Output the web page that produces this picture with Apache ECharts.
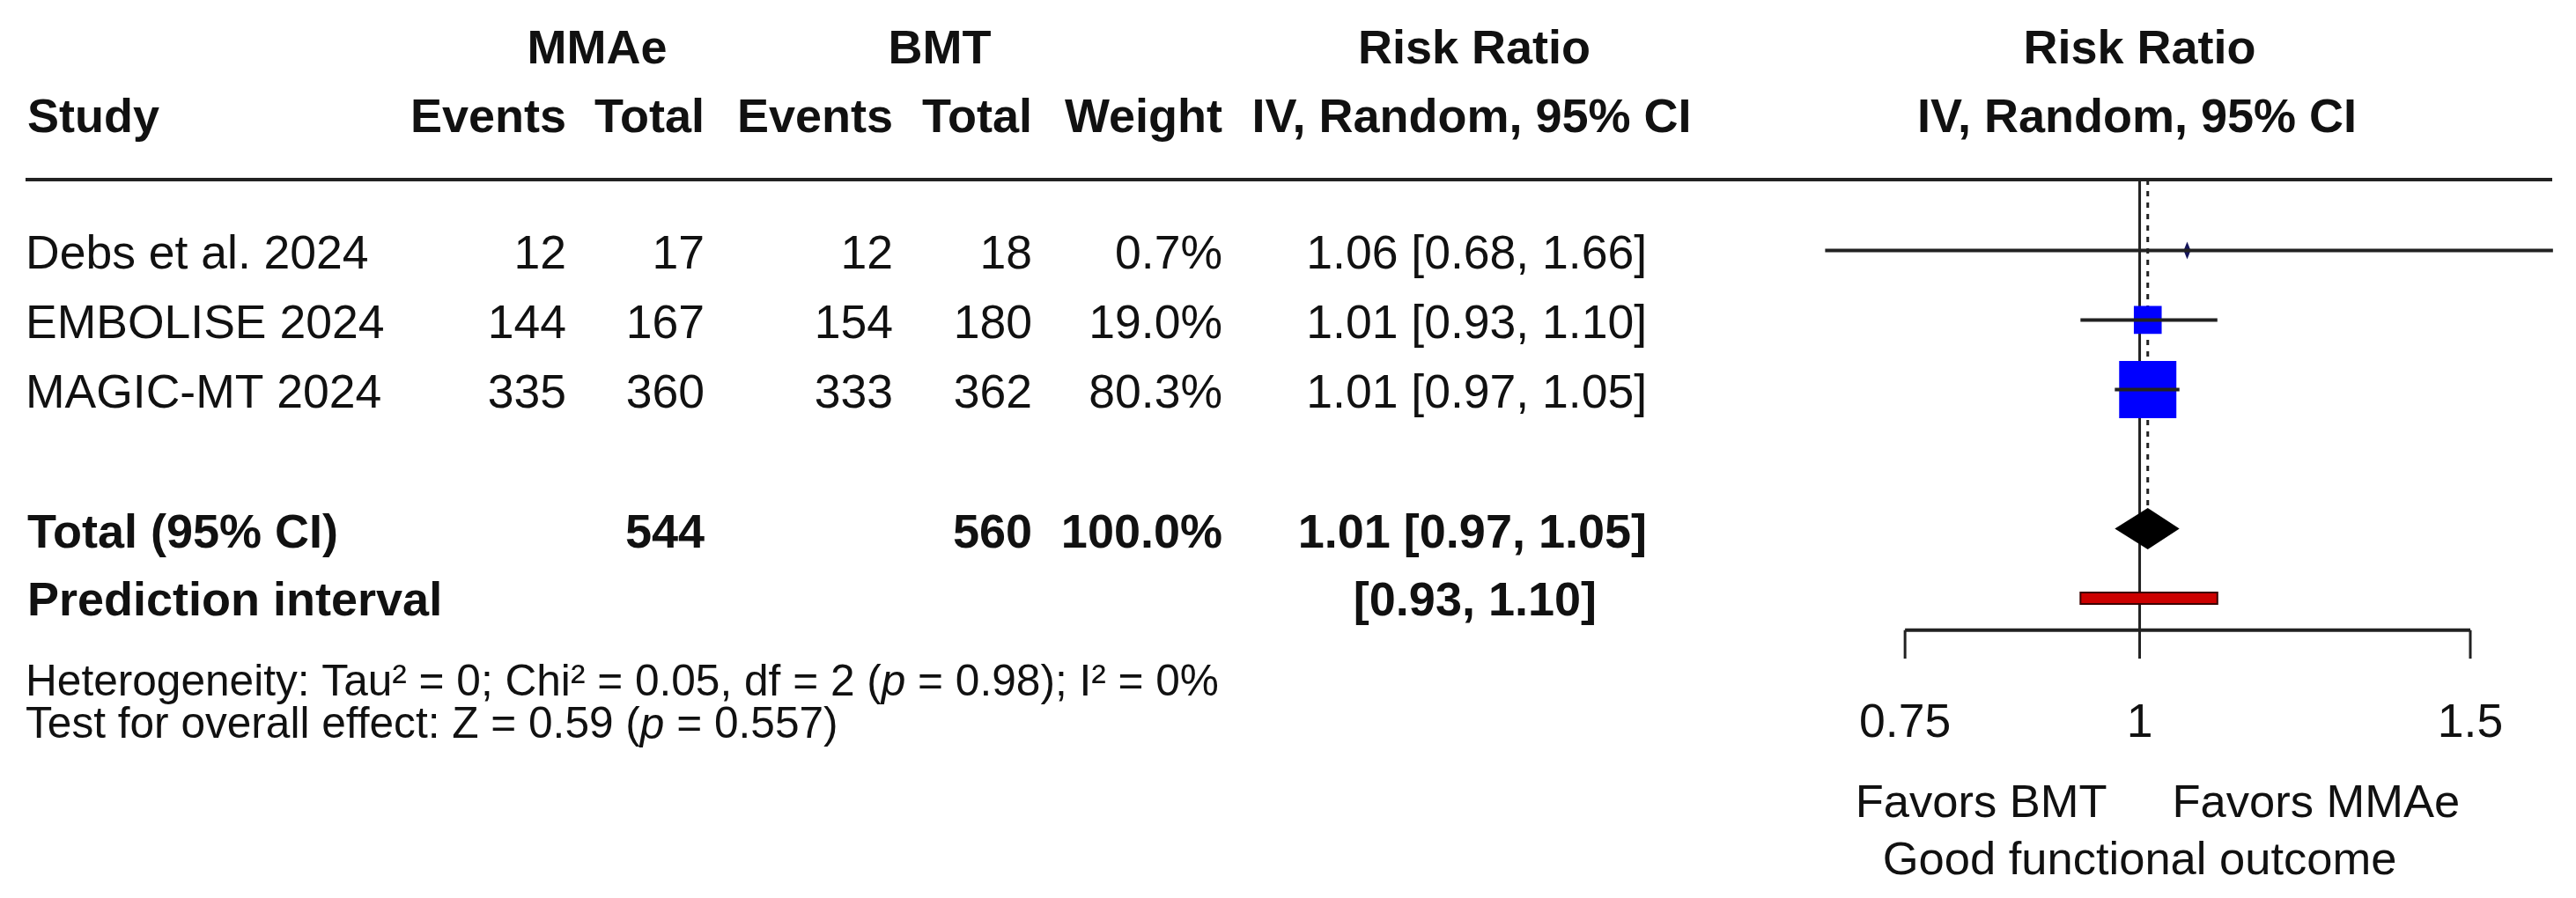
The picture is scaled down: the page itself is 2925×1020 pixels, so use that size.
<!DOCTYPE html>
<html><head><meta charset="utf-8">
<script src="https://cdn.jsdelivr.net/npm/echarts@6/dist/echarts.min.js"></script>
<style>html,body{margin:0;padding:0;background:#fff}#main{width:2925px;height:1020px}</style>
</head><body><div id="main"></div>
<script>
// ---------------- data ----------------
const studies = ['Debs et al. 2024', 'EMBOLISE 2024', 'MAGIC-MT 2024'];
const mmaeEvents = [12, 144, 335];
const mmaeTotal = [17, 167, 360];
const bmtEvents = [12, 154, 333];
const bmtTotal = [18, 180, 362];
const weights = [0.7, 19.0, 80.3];
const riskRatio = [1.06, 1.01, 1.01];
const ciLower = [0.68, 0.93, 0.97];
const ciUpper = [1.66, 1.10, 1.05];
const totalLabel = 'Total (95% CI)';
const totalMMAe = [544];
const totalBMT = [560];
const totalWeight = [100.0];
const pooled = [1.01, 0.97, 1.05];          // RR, lower, upper
const predictionLabel = 'Prediction interval';
const predictionInterval = [0.93, 1.10];
const noEffect = [1];
const axisTicks = [0.75, 1, 1.5];
const tickLabels = ['0.75', '1', '1.5'];
const groupHeaders = ['MMAe', 'BMT', 'Risk Ratio', 'Risk Ratio'];
const columnHeaders = ['Study', 'Events', 'Total', 'Events', 'Total', 'Weight', 'IV, Random, 95% CI', 'IV, Random, 95% CI'];
const favorLabels = ['Favors BMT', 'Favors MMAe'];
const outcomeLabel = 'Good functional outcome';
const hetParts = ['Heterogeneity: Tau² = 0; Chi² = 0.05, df = 2 (', 'p', ' = 0.98); I² = 0%'];
const testParts = ['Test for overall effect: Z = 0.59 (', 'p', ' = 0.557)'];

// ---------------- layout ----------------
const FONT = "'Liberation Sans', Arial, Helvetica, sans-serif";
const FS = 53.5, FSB = 54, FSH = 49.6, FSF = 52.5;
const ROW_PX = 79, Y_MIN = -3.6;
const R = { header1: -2.88, header2: -1.89, rule: -1.018, total: 4, pred: 5,
            axis: 5.46, tickEnd: 5.87, tickLabel: 6.81, favors: 7.96, outcome: 8.78,
            het: 6.23, test: 6.84, textOff: 0.08 };
const COL = { study: 31, mmaeE: 643, mmaeT: 800, bmtE: 1014, bmtT: 1172, weight: 1388, rr: 1870,
              mmaeHead: 678, bmtHead: 1067, rrHead: 1674, pred: 1813 };
const LINE = '#222';

const chart = echarts.init(document.getElementById('main'), null, { renderer: 'canvas' });
const fmt2 = v => v.toFixed(2);
const ciText = (r, l, u) => fmt2(r) + ' [' + fmt2(l) + ', ' + fmt2(u) + ']';

function lineEl(p1, p2, w, dash) {
  return { type: 'line', shape: { x1: p1[0], y1: p1[1], x2: p2[0], y2: p2[1] },
           style: { stroke: LINE, lineWidth: w, lineDash: dash || null } };
}

chart.setOption({
  animation: false,
  backgroundColor: '#fff',
  grid: { left: 1956.5, width: 964.4, top: 0, height: 1020 },
  xAxis: { type: 'log', logBase: 10, min: 0.6, max: 1.7, show: false },
  yAxis: { type: 'value', inverse: true, min: Y_MIN, max: Y_MIN + 1020 / ROW_PX, show: false },
  series: [
    { // line of no effect
      type: 'custom', data: noEffect.map(v => [v, R.rule, R.axis]), encode: { x: 0, y: [1, 2] },
      renderItem: (p, api) => lineEl(api.coord([api.value(0), api.value(1)]), api.coord([api.value(0), api.value(2)]), 3)
    },
    { // pooled estimate dashed line
      type: 'custom', data: [[pooled[0], R.rule, R.total]], encode: { x: 0, y: [1, 2] },
      renderItem: (p, api) => lineEl(api.coord([api.value(0), api.value(1)]), api.coord([api.value(0), api.value(2)]), 3, [6, 7])
    },
    { // study squares
      type: 'custom', data: studies.map((s, i) => [riskRatio[i], i, weights[i]]), encode: { x: 0, y: 1 },
      renderItem: (p, api) => {
        const c = api.coord([api.value(0), api.value(1)]);
        const side = 7.25 * Math.sqrt(api.value(2));
        if (side < 10) {
          return { type: 'polygon', shape: { points: [[c[0], c[1] - 10], [c[0] + 4, c[1]], [c[0], c[1] + 10], [c[0] - 4, c[1]]] },
                   style: { fill: '#14145a' } };
        }
        return { type: 'rect', shape: { x: c[0] - side / 2, y: c[1] - side / 2, width: side, height: side },
                 style: { fill: '#0000ff' } };
      }
    },
    { // confidence intervals
      type: 'custom', data: studies.map((s, i) => [ciLower[i], ciUpper[i], i]), encode: { x: [0, 1], y: 2 },
      renderItem: (p, api) => lineEl(api.coord([api.value(0), api.value(2)]), api.coord([api.value(1), api.value(2)]), 4)
    },
    { // pooled diamond
      type: 'custom', data: [[pooled[1], pooled[0], pooled[2], R.total]], encode: { x: [0, 1, 2], y: 3 },
      renderItem: (p, api) => {
        const l = api.coord([api.value(0), api.value(3)]);
        const m = api.coord([api.value(1), api.value(3)]);
        const u = api.coord([api.value(2), api.value(3)]);
        const h = 23.5;
        return { type: 'polygon', shape: { points: [[l[0], l[1]], [m[0], m[1] - h], [u[0], u[1]], [m[0], m[1] + h]] },
                 style: { fill: '#000' } };
      }
    },
    { // prediction interval bar
      type: 'custom', data: [[predictionInterval[0], predictionInterval[1], R.pred]], encode: { x: [0, 1], y: 2 },
      renderItem: (p, api) => {
        const a = api.coord([api.value(0), api.value(2)]);
        const b = api.coord([api.value(1), api.value(2)]);
        return { type: 'rect', shape: { x: a[0], y: a[1] - 6.5, width: b[0] - a[0], height: 13 },
                 style: { fill: '#cc0000', stroke: '#3a0000', lineWidth: 2 } };
      }
    },
    { // axis line
      type: 'custom', data: [[axisTicks[0], axisTicks[axisTicks.length - 1], R.axis]], encode: { x: [0, 1], y: 2 },
      renderItem: (p, api) => lineEl(api.coord([api.value(0), api.value(2)]), api.coord([api.value(1), api.value(2)]), 4)
    },
    { // ticks + labels
      type: 'custom', data: axisTicks.map((v, i) => [v, R.axis, R.tickEnd, R.tickLabel, i]), encode: { x: 0, y: [1, 2, 3] },
      renderItem: (p, api) => {
        const a = api.coord([api.value(0), api.value(1)]);
        const b = api.coord([api.value(0), api.value(2)]);
        const t = api.coord([api.value(0), api.value(3)]);
        return { type: 'group', children: [
          lineEl(a, b, 3),
          { type: 'text', x: t[0], y: t[1],
            style: { text: tickLabels[api.value(4)], fontSize: FS, fontFamily: FONT, fill: '#111',
                     align: 'center', verticalAlign: 'middle', textAlign: 'center', textVerticalAlign: 'middle' } }
        ] };
      }
    }
  ]
});

// ---------------- table text (graphic) ----------------
const yPix = r => chart.convertToPixel({ yAxisIndex: 0 }, r);
const xPix = v => chart.convertToPixel({ xAxisIndex: 0 }, v);
function txt(text, x, row, align, bold, size) {
  const fs = size || (bold ? FSB : FS);
  return { type: 'text', x: x, y: yPix(row), silent: true,
    style: { text: text, fontSize: fs, fontFamily: FONT, fontWeight: bold ? 'bold' : 'normal', fill: '#111',
             align: align, verticalAlign: 'middle', textAlign: align, textVerticalAlign: 'middle' } };
}
const g = [];
const x1 = xPix(noEffect[0]);
g.push(txt(groupHeaders[0], COL.mmaeHead, R.header1, 'center', true));
g.push(txt(groupHeaders[1], COL.bmtHead, R.header1, 'center', true));
g.push(txt(groupHeaders[2], COL.rrHead, R.header1, 'center', true));
g.push(txt(groupHeaders[3], x1, R.header1, 'center', true));
g.push(txt(columnHeaders[0], COL.study, R.header2, 'left', true));
g.push(txt(columnHeaders[1], COL.mmaeE, R.header2, 'right', true));
g.push(txt(columnHeaders[2], COL.mmaeT, R.header2, 'right', true));
g.push(txt(columnHeaders[3], COL.bmtE, R.header2, 'right', true));
g.push(txt(columnHeaders[4], COL.bmtT, R.header2, 'right', true));
g.push(txt(columnHeaders[5], COL.weight, R.header2, 'right', true));
g.push(txt(columnHeaders[6], COL.rrHead - 3, R.header2, 'center', true));
g.push(txt(columnHeaders[7], x1 - 3, R.header2, 'center', true));
g.push({ type: 'line', silent: true, shape: { x1: 29, y1: yPix(R.rule), x2: 2898, y2: yPix(R.rule) },
         style: { stroke: LINE, lineWidth: 4 } });
studies.forEach((s, i) => {
  const r = i + R.textOff;
  g.push(txt(s, COL.study - 2, r, 'left'));
  g.push(txt(String(mmaeEvents[i]), COL.mmaeE, r, 'right'));
  g.push(txt(String(mmaeTotal[i]), COL.mmaeT, r, 'right'));
  g.push(txt(String(bmtEvents[i]), COL.bmtE, r, 'right'));
  g.push(txt(String(bmtTotal[i]), COL.bmtT, r, 'right'));
  g.push(txt(weights[i].toFixed(1) + '%', COL.weight, r, 'right'));
  g.push(txt(ciText(riskRatio[i], ciLower[i], ciUpper[i]), COL.rr, r, 'right'));
});
const rt = R.total + R.textOff;
g.push(txt(totalLabel, COL.study, rt, 'left', true));
g.push(txt(String(totalMMAe[0]), COL.mmaeT, rt, 'right', true));
g.push(txt(String(totalBMT[0]), COL.bmtT, rt, 'right', true));
g.push(txt(totalWeight[0].toFixed(1) + '%', COL.weight, rt, 'right', true));
g.push(txt(ciText(pooled[0], pooled[1], pooled[2]), COL.rr, rt, 'right', true));
const rp = R.pred + 0.06;
g.push(txt(predictionLabel, COL.study, rp, 'left', true));
g.push(txt('[' + fmt2(predictionInterval[0]) + ', ' + fmt2(predictionInterval[1]) + ']', COL.pred, rp, 'right', true));

function richLine(parts, row) {
  const el = txt('{n|' + parts[0] + '}{i|' + parts[1] + '}{n|' + parts[2] + '}', 29, row, 'left', false, FSH);
  el.style.rich = {
    n: { fontSize: FSH, fontFamily: FONT, fill: '#111' },
    i: { fontSize: FSH, fontFamily: FONT, fontStyle: 'italic', fill: '#111' }
  };
  return el;
}
g.push(richLine(hetParts, R.het));
g.push(richLine(testParts, R.test));

g.push(txt(favorLabels[0], x1 - 37, R.favors, 'right', false, FSF));
g.push(txt(favorLabels[1], x1 + 37, R.favors, 'left', false, FSF));
g.push(txt(outcomeLabel, x1, R.outcome, 'center', false, FSF));

chart.setOption({ graphic: g });
</script>
</body></html>
